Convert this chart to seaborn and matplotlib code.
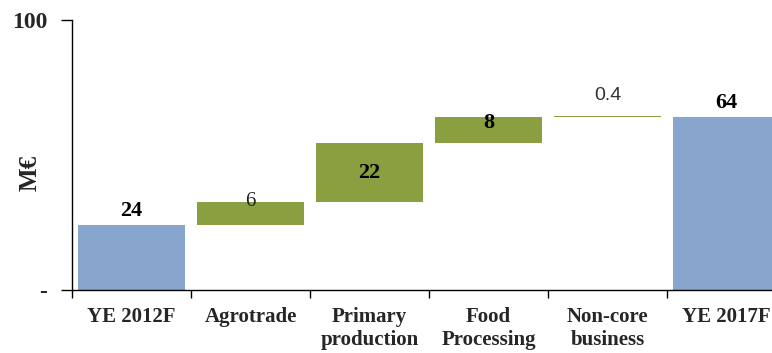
import pandas as pd
import seaborn as sns
import matplotlib.pyplot as plt

# waterfall data (bar sizes as drawn in the reference, labels as printed)
categories = ['YE 2012F', 'Agrotrade', 'Primary\nproduction', 'Food\nProcessing',
              'Non-core\nbusiness', 'YE 2017F']
steps = [24, 8.6, 21.7, 9.7, 0.4, 64]
is_total = [True, False, False, False, False, True]
value_labels = ['24', '6', '22', '8', '0.4', '64']

# bottoms: totals start at zero, steps stack on the running sum
bottoms = []
running = 0
for s, tot in zip(steps, is_total):
    if tot:
        bottoms.append(0)
        running = s
    else:
        bottoms.append(running)
        running += s

df = pd.DataFrame({'category': categories, 'value': steps, 'bottom': bottoms})

sns.set_style('white')
plt.rcParams['font.family'] = ['Liberation Serif', 'DejaVu Serif']

blue = '#87a5cd'
green = '#8a9f40'

fig = plt.figure(figsize=(7.72, 3.53), dpi=100)
ax = fig.add_axes([72 / 772, 63 / 353, 714 / 772, 270 / 353])

sns.barplot(data=df, x='category', y='value', bottom=df['bottom'].to_numpy(),
            errorbar=None, width=0.9, ax=ax, color=blue)
for patch, tot in zip(ax.patches, is_total):
    patch.set_facecolor(blue if tot else green)
    patch.set_edgecolor('none')

ax.set_ylim(0, 100)
ax.set_xlim(-0.5, len(categories) - 0.5)

# value labels
styles = {
    0: dict(dy=3, va='bottom', weight='bold', family='Liberation Serif', size=16, color='black'),
    1: dict(dy=0, va='center', weight='normal', family='Liberation Serif', size=15, color='#222222'),
    2: dict(dy=None, va='center', weight='bold', family='Liberation Serif', size=16, color='black'),
    3: dict(dy=-4, va='center', weight='bold', family='Liberation Serif', size=16, color='black'),
    4: dict(dy=15, va='center', weight='normal', family='Liberation Sans', size=14, color='#333333'),
    5: dict(dy=3, va='bottom', weight='bold', family='Liberation Serif', size=16, color='black'),
}
for i, (b, s, lab) in enumerate(zip(bottoms, steps, value_labels)):
    st = styles[i]
    if st['dy'] is None:
        ax.text(i, b + s / 2, lab, ha='center', va='center', fontsize=st['size'],
                fontweight=st['weight'], family=st['family'], color=st['color'])
    else:
        ax.annotate(lab, (i, b + s), xytext=(0, st['dy']), textcoords='offset points',
                    ha='center', va=st['va'], fontsize=st['size'],
                    fontweight=st['weight'], family=st['family'], color=st['color'])

# axes styling
sns.despine(ax=ax, top=True, right=True)
for sp in ['left', 'bottom']:
    ax.spines[sp].set_color('black')
    ax.spines[sp].set_linewidth(1.0)

ax.set_yticks([0, 100])
ax.set_yticklabels(['-', '100'], fontsize=17, fontweight='bold')
ax.tick_params(axis='y', direction='out', length=8, width=1, pad=10, left=True, color='black')

ax.set_xticks(range(len(categories)))
ax.set_xticklabels(categories, fontsize=15, fontweight='bold', linespacing=1.25)
ax.tick_params(axis='x', which='major', length=0, pad=12)
ax.set_xticks([i - 0.5 for i in range(len(categories))], minor=True)
ax.tick_params(axis='x', which='minor', direction='out', length=6, width=1,
               bottom=True, color='black')

ax.set_xlabel('')
ax.set_ylabel('M€', fontsize=18, fontweight='bold')
ax.yaxis.set_label_coords(-0.042, 0.433)

fig.savefig('out.png', dpi=100)
